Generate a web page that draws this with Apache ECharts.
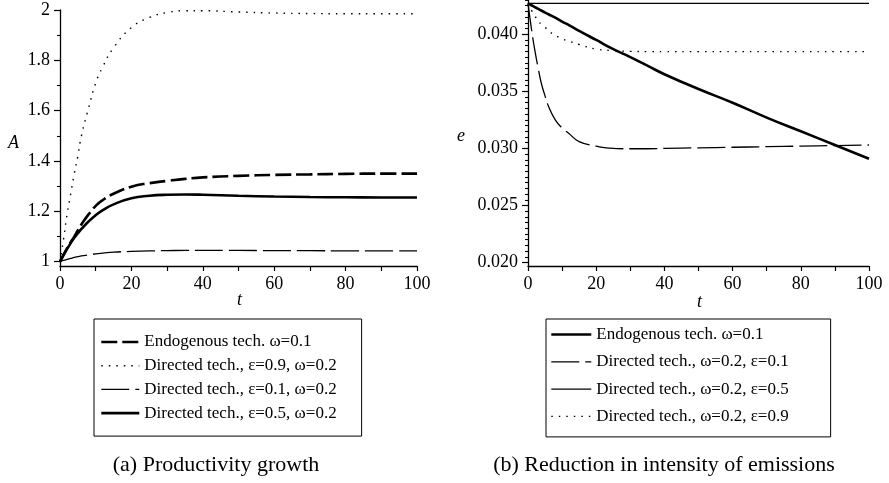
<!DOCTYPE html>
<html>
<head>
<meta charset="utf-8">
<script src="https://cdn.jsdelivr.net/npm/echarts@6/dist/echarts.min.js"></script>
<style>
  html, body { margin: 0; padding: 0; background: #fff; }
  #chart { width: 889px; height: 483px; }
</style>
</head>
<body>
<div id="chart"></div>
<script>
// time grid shared by every curve
const tValues = [0, 1, 2, 3, 4, 5, 6, 8, 10, 12, 15, 20, 25, 30, 35, 40, 50, 60, 70, 80, 90, 100];

// (a) productivity A
const endoA  = [1, 1.028, 1.054, 1.078, 1.1, 1.125, 1.148, 1.188, 1.222, 1.245, 1.27, 1.298, 1.312, 1.321, 1.329, 1.335, 1.341, 1.345, 1.347, 1.349, 1.35, 1.35];
const dir09A = [1, 1.09, 1.19, 1.27, 1.35, 1.42, 1.5, 1.61, 1.71, 1.775, 1.85, 1.93, 1.97, 1.99, 1.997, 1.997, 1.992, 1.988, 1.986, 1.985, 1.985, 1.985];
const dir01A = [1, 1.005, 1.009, 1.013, 1.017, 1.02, 1.023, 1.027, 1.031, 1.034, 1.038, 1.041, 1.043, 1.044, 1.045, 1.045, 1.045, 1.044, 1.044, 1.043, 1.043, 1.043];
const dir05A = [1, 1.026, 1.051, 1.074, 1.095, 1.113, 1.13, 1.16, 1.185, 1.205, 1.228, 1.252, 1.262, 1.266, 1.267, 1.266, 1.262, 1.259, 1.257, 1.256, 1.255, 1.255];

// (b) emissions intensity e
const endoE  = [0.0427, 0.04254, 0.04238, 0.04222, 0.04206, 0.0419, 0.04175, 0.04145, 0.0411, 0.0408, 0.0403, 0.0395, 0.0387, 0.038, 0.03725, 0.0365, 0.0352, 0.034, 0.0327, 0.0315, 0.0303, 0.0291];
const dir01E = [0.0427, 0.0405, 0.0386, 0.037, 0.0356, 0.0346, 0.0337, 0.0325, 0.0318, 0.0313, 0.0306, 0.0302, 0.03, 0.02997, 0.02997, 0.03, 0.03005, 0.0301, 0.03015, 0.0302, 0.03025, 0.0303];
const dir05E = [0.0427, 0.0427, 0.0427, 0.0427, 0.0427, 0.0427, 0.0427, 0.0427, 0.0427, 0.0427, 0.0427, 0.0427, 0.0427, 0.0427, 0.0427, 0.0427, 0.0427, 0.0427, 0.0427, 0.0427, 0.0427, 0.0427];
const dir09E = [0.0427, 0.0421, 0.0416, 0.0412, 0.0408, 0.0406, 0.0403, 0.0399, 0.0396, 0.0394, 0.0391, 0.0387, 0.03857, 0.0385, 0.03848, 0.03848, 0.03848, 0.03848, 0.03848, 0.03848, 0.03848, 0.03848];

// tick labels
const aTicks = [1, 1.2, 1.4, 1.6, 1.8, 2];
const aMinor = [1.1, 1.3, 1.5, 1.7, 1.9];
const eTicks = [0.02, 0.025, 0.03, 0.035, 0.04];
const eMinor = [0.0205, 0.021, 0.0215, 0.022, 0.0225, 0.023, 0.0235, 0.024, 0.0245,
  0.0255, 0.026, 0.0265, 0.027, 0.0275, 0.028, 0.0285, 0.029, 0.0295,
  0.0305, 0.031, 0.0315, 0.032, 0.0325, 0.033, 0.0335, 0.034, 0.0345,
  0.0355, 0.036, 0.0365, 0.037, 0.0375, 0.038, 0.0385, 0.039, 0.0395,
  0.0405, 0.041, 0.0415, 0.042, 0.0425, 0.043];

const namesA = ['Endogenous tech. ω=0.1', 'Directed tech., ε=0.9, ω=0.2', 'Directed tech., ε=0.1, ω=0.2', 'Directed tech., ε=0.5, ω=0.2'];
// trailing space keeps the right-hand legend icon separate from the left one
const namesE = ['Endogenous tech. ω=0.1 ', 'Directed tech., ω=0.2, ε=0.1', 'Directed tech., ω=0.2, ε=0.5', 'Directed tech., ω=0.2, ε=0.9'];

const FONT = 'Liberation Serif';
const pairs = vals => tValues.map((t, i) => [t, vals[i]]);

function xAxisFor(grid) {
  return {
    gridIndex: grid, type: 'value', min: 0, max: 100, interval: 10,
    axisLine: { onZero: false, lineStyle: { color: '#000', width: 1.3 } },
    axisTick: { length: 5, lineStyle: { color: '#000', width: 1.2 } },
    axisLabel: { color: '#000', fontFamily: FONT, fontSize: 18, margin: 9,
      formatter: v => (v % 20 === 0 ? String(v) : '') },
    splitLine: { show: false }
  };
}

function yMajor(grid, min, max, ticks, fmt) {
  return {
    gridIndex: grid, type: 'value', min: min, max: max,
    axisLine: { show: true, lineStyle: { color: '#000', width: 1.3 } },
    axisTick: { customValues: ticks, length: 6, lineStyle: { color: '#000', width: 1.2 } },
    axisLabel: { customValues: ticks, color: '#000', fontFamily: FONT, fontSize: 18, margin: 10, formatter: fmt },
    splitLine: { show: false }
  };
}

function yMinor(grid, min, max, ticks) {
  return {
    gridIndex: grid, type: 'value', min: min, max: max, position: 'left',
    axisLine: { show: false },
    axisTick: { show: true, customValues: ticks, length: 3, lineStyle: { color: '#000', width: 1.1 } },
    axisLabel: { show: false },
    splitLine: { show: false }
  };
}

function line(name, vals, xi, yi, width, type) {
  return {
    name: name, type: 'line', xAxisIndex: xi, yAxisIndex: yi,
    data: pairs(vals), symbol: 'none', smooth: 0.5,
    lineStyle: { color: '#000', width: width, type: type }
  };
}

const legendBase = {
  orient: 'vertical', itemHeight: 2, selectedMode: false,
  borderColor: '#000', borderWidth: 1,
  itemStyle: { opacity: 0 },
  lineStyle: { width: 'inherit', type: 'inherit' },
  textStyle: { color: '#000', fontFamily: FONT, fontSize: 17, lineHeight: 17 }
};

const chart = echarts.init(document.getElementById('chart'), null, { renderer: 'canvas' });
chart.setOption({
  animation: false,
  color: ['#000'],
  textStyle: { fontFamily: FONT },
  grid: [
    { left: 60, top: 10, width: 357, height: 256 },
    { left: 528, top: 0, width: 341, height: 266 }
  ],
  xAxis: [xAxisFor(0), xAxisFor(1)],
  yAxis: [
    yMajor(0, 0.983, 2, aTicks, v => String(v)),
    yMinor(0, 0.983, 2, aMinor),
    yMajor(1, 0.0197, 0.043, eTicks, v => v.toFixed(3)),
    yMinor(1, 0.0197, 0.043, eMinor)
  ],
  legend: [
    Object.assign({}, legendBase, {
      data: namesA, left: 94, top: 319, itemWidth: 38, itemGap: 6.7, padding: [14.5, 25, 14.5, 6]
    }),
    Object.assign({}, legendBase, {
      data: namesE, left: 546, top: 319, itemWidth: 40, itemGap: 10.3, padding: [7, 42, 12, 4]
    })
  ],
  graphic: [
    { type: 'text', left: 8, top: 134, style: { text: 'A', font: 'italic 18px "Liberation Serif"', fill: '#000' } },
    { type: 'text', left: 237, top: 291, style: { text: 't', font: 'italic 18px "Liberation Serif"', fill: '#000' } },
    { type: 'text', left: 457, top: 127, style: { text: 'e', font: 'italic 18px "Liberation Serif"', fill: '#000' } },
    { type: 'text', left: 697, top: 293, style: { text: 't', font: 'italic 18px "Liberation Serif"', fill: '#000' } },
    { type: 'text', x: 216, y: 465, style: { text: '(a) Productivity growth', font: '22px "Liberation Serif"', fill: '#000', align: 'center', verticalAlign: 'middle' } },
    { type: 'text', x: 664, y: 465, style: { text: '(b) Reduction in intensity of emissions', font: '22px "Liberation Serif"', fill: '#000', align: 'center', verticalAlign: 'middle' } }
  ],
  series: [
    line(namesA[0], endoA, 0, 0, 2.6, [16, 5]),
    line(namesA[1], dir09A, 0, 0, 1.4, [1.5, 6]),
    line(namesA[2], dir01A, 0, 0, 1.3, [28, 6]),
    line(namesA[3], dir05A, 0, 0, 2.6, 'solid'),
    line(namesE[0], endoE, 1, 2, 2.6, 'solid'),
    line(namesE[1], dir01E, 1, 2, 1.3, [28, 6]),
    line(namesE[2], dir05E, 1, 2, 1.3, 'solid'),
    line(namesE[3], dir09E, 1, 2, 1.4, [1.5, 6])
  ]
});
</script>
</body>
</html>
